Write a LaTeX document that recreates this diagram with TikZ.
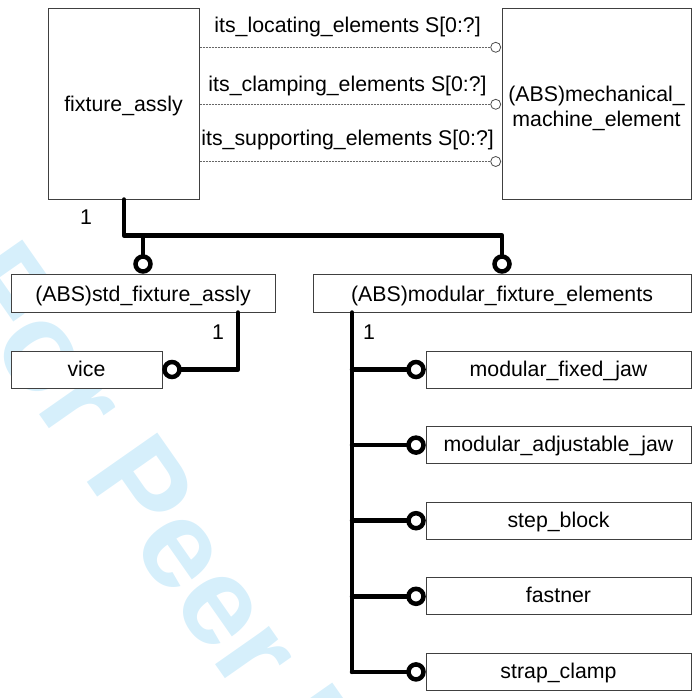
\documentclass[tikz,border=0pt]{standalone}
\usepackage{fontspec}
\setmainfont{Liberation Sans}
\usetikzlibrary{positioning,calc}
\definecolor{wmblue}{RGB}{214,239,251}

\tikzset{
  entbox/.style={draw=black!75, line width=1pt, fill=white, inner sep=0pt},
  ent/.style={entbox, text height=15pt, text depth=2pt},
  conn/.style={line width=4.5pt, line cap=round, line join=round},
  ring/.style={line width=4.5pt, fill=white},
  attr/.style={draw=black!60, line width=0.7pt, dash pattern=on 2pt off 1pt},
  hollow/.style={draw=black!70, line width=0.8pt, fill=white},
}

\begin{document}
\begin{tikzpicture}[x=1pt,y=-1pt,font=\fontsize{21.3}{25}\selectfont]

\useasboundingbox (0,0) rectangle (692,698);

% --- watermark
\begin{scope}
  \clip (0,0) rectangle (692,698);
  \node[anchor=base west, rotate=-55, inner sep=0pt, text=wmblue,
        font=\bfseries\fontsize{125}{130}\selectfont] (wm) at (-53,282) {For Peer Review};
\end{scope}

% --- entities
\node[entbox, minimum width=151pt, minimum height=190pt, text height=17pt, text depth=1pt] (fix) at (123.5,104) {fixture\_assly};
\node[entbox, minimum width=189pt, minimum height=190pt] (mech) at (596.5,104) {};
\node[anchor=base, inner sep=0pt] (mech1) at (596.5,101.7) {(ABS)mechanical\_};
\node[anchor=base, inner sep=0pt] (mech2) at (596.5,126.7) {machine\_element};
\node[ent, minimum width=264pt, minimum height=38pt, text height=16pt, text depth=0pt] (std) at (143,293) {(ABS)std\_fixture\_assly};
\node[ent, minimum width=378pt, minimum height=38pt, text height=16pt, text depth=0pt] (mfe) at (502,293) {(ABS)modular\_fixture\_elements};
\node[ent, minimum width=151pt, minimum height=37pt] (vice) at (86.5,369.5) {vice};

\foreach \nm/\txt [count=\i] in {fj/modular\_fixed\_jaw, aj/modular\_adjustable\_jaw,
    sb/step\_block, fa/fastner, sc/strap\_clamp}{
  \node[ent, minimum width=265pt, minimum height=37pt] (\nm) at (558.5,{369.5+75.6*(\i-1)}) {\txt};
}

% --- attributes (dotted)
\foreach \y/\dy/\lab [count=\i] in {47.3/20/its\_locating\_elements S[0:?],
    104.3/18.5/its\_clamping\_elements S[0:?], 161.5/22/its\_supporting\_elements S[0:?]}{
  \draw[attr] (fix.east |- 0,\y) -- ($(mech.west |- 0,\y)+(-5.8,0)$)
    node[midway, yshift=\dy pt] (lab\i) {\lab};
  \draw[hollow] ($(mech.west |- 0,\y)+(-5.8,0)$) circle (5pt);
}

% --- supertype tree
\coordinate (bus) at ($(fix.south)+(0.5,36)$);
\draw[conn] ([xshift=0.5pt]fix.south) -- (bus) -| ([yshift=9.5pt]mfe.north);
\draw[conn] (std.north |- bus) -- ([yshift=9.5pt]std.north);
\draw[ring] ([yshift=9.5pt]std.north) circle (7.5pt);
\draw[ring] ([yshift=9.5pt]mfe.north) circle (7.5pt);
\node (one1) at (86,217) {1};

% --- std_fixture_assly -> vice
\draw[conn] ([xshift=95pt]std.south) |- ([xshift=9.5pt]vice.east);
\draw[ring] ([xshift=9.5pt]vice.east) circle (7.5pt);
\node (one2) at (218,332) {1};

% --- modular_fixture_elements -> parts
\coordinate (spine) at ([xshift=-150pt]mfe.south);
\draw[conn] (spine) -- (spine |- sc.west);
\foreach \nm in {fj,aj,sb,fa,sc}{
  \draw[conn] (spine |- \nm.west) -- ([xshift=-9.5pt]\nm.west);
  \draw[ring] ([xshift=-9.5pt]\nm.west) circle (7.5pt);
}
\node (one3) at (369,332) {1};

\end{tikzpicture}
\end{document}
